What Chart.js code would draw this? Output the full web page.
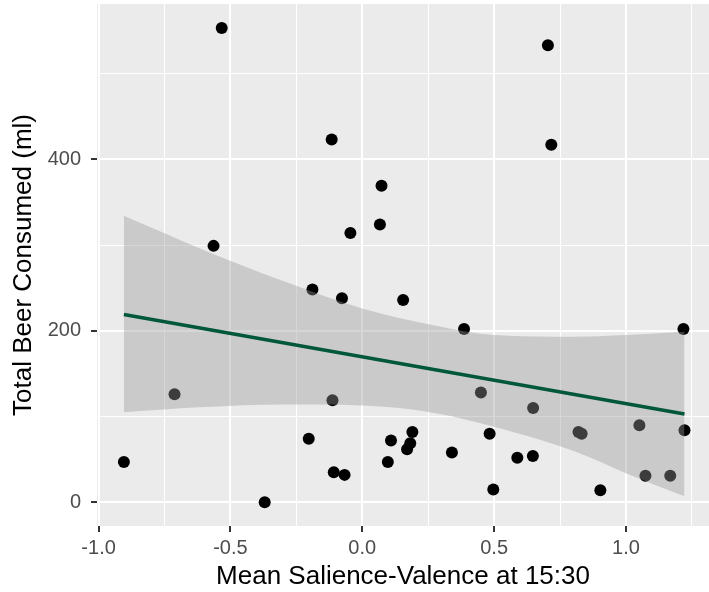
<!DOCTYPE html>
<html>
<head>
<meta charset="utf-8">
<script src="https://cdn.jsdelivr.net/npm/chart.js@4.4.1/dist/chart.umd.min.js"></script>
<style>
  html, body { margin: 0; padding: 0; background: #fff; }
  #wrap { width: 709px; height: 592px; }
</style>
</head>
<body>
<div id="wrap"><canvas id="beer"></canvas></div>
<script>
'use strict';

// ── Data ───────────────────────────────────────────────────────────────────
const pointX = [-0.533, -0.564, -0.116, 0.073, 0.067, -0.045, 0.704, 0.717, -0.189, -0.077,
                0.155, -0.113, -0.203, -0.108, -0.067, -0.370, 0.109, 0.097, 0.170, 0.182,
                0.190, 0.386, 0.450, 0.648, 0.483, 0.340, 0.588, 0.647, 0.497, -0.712,
                -0.904, 1.218, 0.820, 0.832, 1.051, 1.222, 1.074, 1.168, 0.903];
const pointY = [553, 299, 423, 369, 324, 314, 533, 417, 248, 238,
                236, 119, 74, 35, 32, 0, 72, 47, 62, 69,
                82, 202, 128, 110, 80, 58, 52, 54, 15, 126,
                47, 202, 82, 80, 90, 84, 31, 31, 14];

// fitted line end points and confidence band edges
const fitX = [-0.904, 1.222];
const fitY = [219, 103];
const bandX = [-0.904, -0.6, -0.3, 0, 0.28, 0.5, 0.8, 1.0, 1.222];
const bandUpper = [334, 294, 258, 226, 206, 195, 193, 195, 199];
const bandLower = [105, 111, 114, 113, 104, 88, 60, 34, 7];

// grid / tick positions
const xGrid = [-1, -0.75, -0.5, -0.25, 0, 0.25, 0.5, 0.75, 1, 1.25];
const xMajor = [-1, -0.5, 0, 0.5, 1];
const xTickLabels = ['-1.0', '-0.5', '0.0', '0.5', '1.0'];
const yGrid = [0, 100, 200, 300, 400, 500];
const yMajor = [0, 200, 400];
const yTickLabels = ['0', '200', '400'];

const FONT = '"Liberation Sans", Arial, Helvetica, sans-serif';

const majorIndex = (list, v) => list.findIndex(m => Math.abs(m - v) < 1e-6);
const zip = (xs, ys) => xs.map((x, i) => ({ x: x, y: ys[i] }));

// grey panel behind the plot, ggplot style
const panelBg = {
    id: 'panelBg',
    beforeDraw(chart) {
        const { ctx, chartArea: a } = chart;
        ctx.save();
        ctx.fillStyle = '#ebebeb';
        ctx.fillRect(a.left, a.top, a.right - a.left, a.bottom - a.top);
        ctx.restore();
    },
};

function gridFor(major) {
    return {
        color: '#ffffff',
        lineWidth: c => (c.tick && majorIndex(major, c.tick.value) >= 0 ? 2 : 1),
        tickColor: c => (c.tick && majorIndex(major, c.tick.value) >= 0 ? '#333333' : 'rgba(0,0,0,0)'),
        tickWidth: 2,
        tickLength: 6,
        drawTicks: true,
    };
}

// force scale sizes so the panel lands where the reference has it
function fixSize(prop, size) {
    return s => {
        s[prop] = size;
        s.paddingTop = 0;
        s.paddingBottom = 0;
        s.paddingLeft = 0;
        s.paddingRight = 0;
    };
}

new Chart(document.getElementById('beer'), {
    type: 'scatter',
    data: {
        datasets: [
            {
                type: 'line',
                data: zip(fitX, fitY),
                borderColor: '#00573c',
                borderWidth: 3.5,
                pointRadius: 0,
                fill: false,
                order: 0,
            },
            {
                type: 'line',
                data: zip(bandX, bandUpper),
                borderWidth: 0,
                pointRadius: 0,
                cubicInterpolationMode: 'monotone',
                backgroundColor: 'rgba(153,153,153,0.4)',
                fill: '+1',
                order: 1,
            },
            {
                type: 'line',
                data: zip(bandX, bandLower),
                borderWidth: 0,
                pointRadius: 0,
                cubicInterpolationMode: 'monotone',
                fill: false,
                order: 2,
            },
            {
                data: zip(pointX, pointY),
                backgroundColor: '#000000',
                borderWidth: 0,
                pointRadius: 6,
                order: 3,
            },
        ],
    },
    options: {
        responsive: true,
        maintainAspectRatio: false,
        animation: false,
        layout: { autoPadding: false, padding: { top: 4, right: 0, bottom: 0, left: 0 } },
        plugins: { legend: { display: false }, tooltip: { enabled: false } },
        scales: {
            x: {
                type: 'linear',
                min: -1.006,
                max: 1.315,
                afterBuildTicks: s => { s.ticks = xGrid.map(v => ({ value: v })); },
                afterFit: fixSize('height', 66),
                border: { display: false },
                grid: gridFor(xMajor),
                ticks: {
                    autoSkip: false,
                    maxRotation: 0,
                    padding: 4,
                    color: '#4d4d4d',
                    font: { family: FONT, size: 20 },
                    callback: v => { const i = majorIndex(xMajor, v); return i >= 0 ? xTickLabels[i] : ''; },
                },
                title: {
                    display: true,
                    text: 'Mean Salience-Valence at 15:30',
                    color: '#000000',
                    font: { family: FONT, size: 26 },
                    padding: { top: 0, bottom: 0 },
                },
            },
            y: {
                type: 'linear',
                min: -27.6,
                max: 581,
                afterBuildTicks: s => { s.ticks = yGrid.map(v => ({ value: v })); },
                afterFit: fixSize('width', 97),
                border: { display: false },
                grid: gridFor(yMajor),
                ticks: {
                    autoSkip: false,
                    padding: 10,
                    color: '#4d4d4d',
                    font: { family: FONT, size: 20 },
                    callback: v => { const i = majorIndex(yMajor, v); return i >= 0 ? yTickLabels[i] : ''; },
                },
                title: {
                    display: true,
                    text: 'Total Beer Consumed (ml)',
                    color: '#000000',
                    font: { family: FONT, size: 26 },
                    padding: { top: 8, bottom: 0 },
                },
            },
        },
    },
    plugins: [panelBg],
});
</script>
</body>
</html>
